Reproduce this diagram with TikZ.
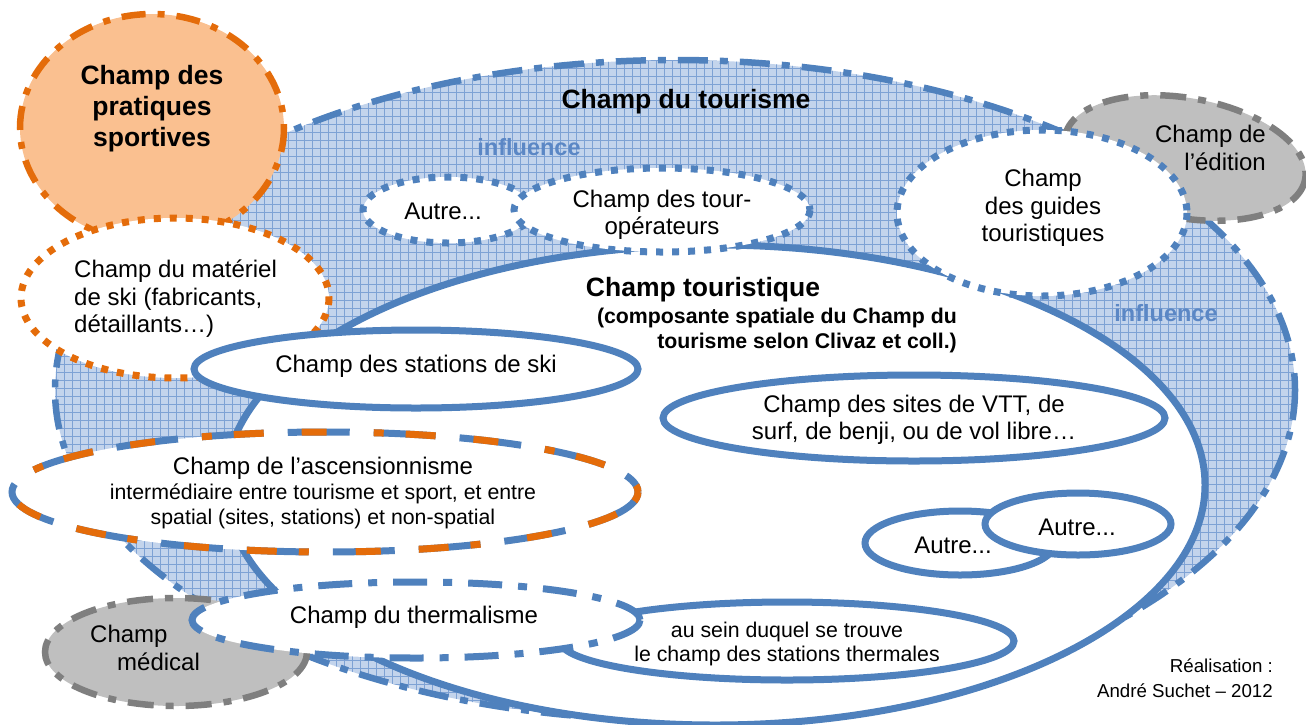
\documentclass[tikz,border=0pt]{standalone}
\usepackage{fontspec}
\setmainfont{Liberation Sans}
\usetikzlibrary{patterns.meta}
\definecolor{bl}{HTML}{4F81BD}
\definecolor{orl}{HTML}{E46C0A}
\definecolor{orfill}{HTML}{FAC090}
\definecolor{gyfill}{HTML}{BFBFBF}
\definecolor{gyl}{HTML}{7F7F7F}
\definecolor{hatchbg}{HTML}{C3D4EC}
\definecolor{hatchln}{HTML}{7EA2D4}
\definecolor{infl}{HTML}{5B87C5}
\tikzset{
  solidb/.style={draw=bl, line width=7pt, fill=white},
  dotb/.style={draw=bl, line width=7pt, dash pattern=on 7pt off 9pt},
  dotor/.style={draw=orl, line width=7pt, dash pattern=on 7pt off 9pt, fill=white},
  dashdotb/.style={draw=bl, line width=6.5pt, dash pattern=on 30pt off 12pt on 8pt off 12pt},
  dashdotthermo/.style={draw=bl, line width=7pt, dash pattern=on 34pt off 16pt on 9pt off 16pt, fill=white},
  dashdotor/.style={draw=orl, line width=6.5pt, dash pattern=on 24pt off 12pt on 7pt off 12pt, fill=orfill},
  dashdotgy/.style={draw=gyl, line width=6.5pt, dash pattern=on 26pt off 12pt on 8pt off 12pt, fill=gyfill},
  ascblue/.style={draw=bl, line width=7pt, dash pattern=on 62pt off 24pt},
  ascor/.style={draw=orl, line width=7pt, dash pattern=on 10pt off 22pt on 30pt off 38pt on 25pt off 47pt},
  txt/.style={font=\fontsize{24}{27.5}\selectfont, align=center, inner sep=0pt, text=black},
  txtb/.style={font=\fontsize{26.5}{31}\selectfont\bfseries, align=center, inner sep=0pt, text=black},
  txtm/.style={font=\fontsize{21.3}{24.8}\selectfont, align=center, inner sep=0pt, text=black},
  txtmb/.style={font=\fontsize{21.3}{25}\selectfont\bfseries, align=right, inner sep=0pt, text=black},
  infltxt/.style={font=\fontsize{23.5}{27}\selectfont\bfseries, inner sep=0pt, text=infl},
}
\begin{document}
\begin{tikzpicture}[x=1pt,y=-1pt]
\useasboundingbox (0,0) rectangle (1306,724);
\clip (0,0) rectangle (1306,724);
% Champ du tourisme
\fill[hatchbg] (675,390) ellipse [x radius=620, y radius=330];
\fill[pattern={Hatch[distance=8pt,angle=0,line width=0.8pt]}, pattern color=hatchln] (675,390) ellipse [x radius=620, y radius=330];
\draw[dashdotb] (675,390) ellipse [x radius=620, y radius=330];
% pratiques sportives
\draw[dashdotor] (152,128) ellipse [x radius=132, y radius=114];
% touristique
\draw[solidb] (715,485) ellipse [x radius=490, y radius=240];
% materiel de ski
\draw[dotor] (175,298) ellipse [x radius=154, y radius=80];
% autre + tour-operateurs
\draw[dotb, fill=white] (448,210) ellipse [x radius=85, y radius=33];
\draw[dotb, fill=white] (662,210) ellipse [x radius=148, y radius=42];
% edition + guides
\draw[dashdotgy, rotate around={-10:(1185,158)}] (1185,158) ellipse [x radius=122, y radius=60];
\draw[dotb, fill=white] (1042,213) ellipse [x radius=145, y radius=83];
% inner ellipses
\draw[solidb] (416,369) ellipse [x radius=222, y radius=39];
\draw[solidb] (914,418) ellipse [x radius=251, y radius=43];
\draw[solidb] (960,543) ellipse [x radius=95, y radius=32];
\draw[solidb] (1078,524) ellipse [x radius=93, y radius=31];
% ascensionnisme
\fill[white] (325,492) ellipse [x radius=313, y radius=60];
\draw[ascblue] (325,492) ellipse [x radius=313, y radius=60];
\draw[ascor] (325,492) ellipse [x radius=313, y radius=60];
% thermales, medical, thermalisme
\draw[solidb] (787,641) ellipse [x radius=227, y radius=39];
\draw[dashdotgy] (176,652) ellipse [x radius=131, y radius=54];
\draw[dashdotthermo] (416,620) ellipse [x radius=224, y radius=38];
% texts
\node[txtb] (sport) at (152,109) {Champ des\\pratiques\\sportives};
\node[txtb] (tour) at (686,102) {Champ du tourisme};
\node[infltxt] (infl1) at (529,147) {influence};
\node[infltxt] (infl2) at (1166,313) {influence};
\node[txt] (autre1) at (443,211) {Autre...};
\node[txt] (tourop) at (662,215) {Champ des tour-\\opérateurs};
\node[txt] (guides) at (1043,208) {Champ\\des guides\\touristiques};
\node[txt, anchor=east, align=right] (edition) at (1266,148) {Champ de\\l’édition};
\node[txt, anchor=west, align=left] (materiel) at (74,299) {Champ du matériel\\de ski (fabricants,\\détaillants…)};
\node[txtb] (touristique) at (703,290) {Champ touristique};
\node[txtmb, anchor=east] (compos) at (957,330) {(composante spatiale du Champ du\\tourisme selon Clivaz et coll.)};
\node[txt] (ski) at (416,366) {Champ des stations de ski};
\node[txt] (vtt) at (914,420) {Champ des sites de VTT, de\\surf, de benji, ou de vol libre…};
\node[txt] (autreL) at (953,545) {Autre...};
\node[txt] (autreR) at (1077,527) {Autre...};
\node[txt] (asc) at (323,468) {Champ de l’ascensionnisme};
\node[txtm] (ascsub) at (323,506) {intermédiaire entre tourisme et sport, et entre\\spatial (sites, stations) et non-spatial};
\node[txt] (therm) at (414,617) {Champ du thermalisme};
\node[txtm] (thermales) at (787,644) {au sein duquel se trouve\\le champ des stations thermales};
\node[txt, anchor=west, align=left] (medical) at (90,648) {Champ\\\hspace*{27pt}médical};
\node[font=\fontsize{18.7}{25}\selectfont, align=right, anchor=east, inner sep=0pt] (real) at (1273,678) {Réalisation :\\André Suchet – 2012};
\end{tikzpicture}
\end{document}
